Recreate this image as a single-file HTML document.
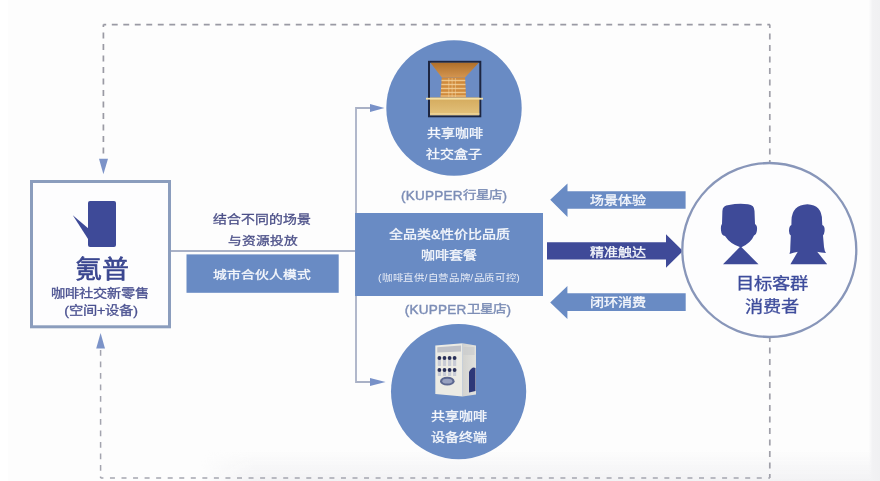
<!DOCTYPE html>
<html lang="zh-CN">
<head>
<meta charset="utf-8">
<style>
html,body{margin:0;padding:0;}
body{width:880px;height:481px;overflow:hidden;background:#fdfdfd;position:relative;font-family:"Liberation Sans",sans-serif;}
svg{position:absolute;left:0;top:0;}
#wrap{position:absolute;left:0;top:0;width:880px;height:481px;filter:blur(0.4px);}
.t{position:absolute;white-space:nowrap;text-align:center;line-height:1;transform:scaleY(0.86);font-weight:normal;-webkit-text-stroke:0.35px currentColor;}
.w{color:#f6f8fc;}
.cj{display:inline-block;transform:scaleY(0.86);}
</style>
</head>
<body>
<div id="wrap">
<svg width="880" height="481" viewBox="0 0 880 481">
  <defs>
    <linearGradient id="bot" x1="0" y1="0" x2="0" y2="1">
      <stop offset="0" stop-color="#f3f3f5" stop-opacity="0"/>
      <stop offset="1" stop-color="#f2f2f4" stop-opacity="1"/>
    </linearGradient>
    <linearGradient id="botx" x1="0" y1="0" x2="1" y2="0">
      <stop offset="0" stop-color="#fff" stop-opacity="0"/>
      <stop offset="0.08" stop-color="#fff" stop-opacity="1"/>
      <stop offset="1" stop-color="#fff" stop-opacity="1"/>
    </linearGradient>
    <linearGradient id="rgt" x1="0" y1="0" x2="1" y2="0">
      <stop offset="0" stop-color="#f2f2f4" stop-opacity="0"/>
      <stop offset="0.3" stop-color="#f2f2f4" stop-opacity="1"/>
      <stop offset="1" stop-color="#f0f0f2" stop-opacity="1"/>
    </linearGradient>
  </defs>
  <mask id="mbot"><rect x="200" y="440" width="680" height="41" fill="url(#botx)"/></mask>
  <rect x="200" y="450" width="680" height="31" fill="url(#bot)" mask="url(#mbot)"/>
  <rect x="869" y="0" width="11" height="481" fill="url(#rgt)"/>
  <rect x="0" y="0" width="8" height="481" fill="#ffffff"/>

  <!-- dashed frame -->
  <g stroke="#9a9aa4" stroke-width="1.7" fill="none" stroke-dasharray="5.9 5.6">
    <path d="M103.4 24.6 H770" stroke-dashoffset="3.1"/>
    <path d="M103.4 24.6 V158" stroke-dashoffset="3.6"/>
    <path d="M769.8 24.6 V163" stroke-dashoffset="2.6" stroke="#a0a0a9"/>
    <path d="M769.8 337 V478" stroke-dashoffset="1" stroke="#a0a0a9"/>
    <path d="M100.6 478 H770" stroke="#a5a6b0" stroke-width="1.5" stroke-dasharray="5 6.55" stroke-dashoffset="2.2"/>
    <path d="M100.6 478 V349" stroke="#a3a4ae" stroke-width="1.5" stroke-dashoffset="4.3"/>
  </g>
  <polygon points="99,158.7 108,158.7 103.4,174.3" fill="#7c93c8"/>
  <polygon points="96.2,348.6 105,348.6 100.6,333" fill="#7c93c8"/>

  <!-- left box -->
  <rect x="31.5" y="181.5" width="138" height="145.3" fill="#fdfdfe" stroke="#8b9dbd" stroke-width="3"/>
  <!-- logo -->
  <rect x="88" y="201" width="28" height="46" rx="2" fill="#3e4a98"/>
  <polygon points="72.8,215.3 89,229 89,240.6" fill="#3e4a98"/>

  <!-- connectors -->
  <g stroke="#a9b1c6" stroke-width="1.8" fill="none">
    <path d="M171 251 H356"/>
    <path d="M371 108 H356 V382 H371"/>
  </g>
  <polygon points="370,104 370,112 384.5,108" fill="#7891c8"/>
  <polygon points="370,378 370,386 385.6,382" fill="#7891c8"/>

  <!-- blue rect city partner -->
  <rect x="186.5" y="254.4" width="152.2" height="38.4" fill="#698bc4"/>
  <!-- middle rect -->
  <rect x="355.1" y="213" width="187.9" height="83" fill="#698bc4"/>

  <!-- circles -->
  <circle cx="454" cy="108" r="67.7" fill="#698bc4"/>
  <circle cx="458.6" cy="391.6" r="67.6" fill="#698bc4"/>

  <!-- arrows -->
  <polygon points="550.2,199.8 567.5,183.5 567.5,191.3 685.6,191.3 685.6,208.8 567.5,208.8 567.5,217" fill="#698bc4"/>
  <polygon points="547,242.2 666,242.2 666,234.3 683,251 666,267.8 666,259.4 547,259.4" fill="#3f4a98"/>
  <polygon points="550.2,302.4 567.4,286 567.4,293.3 685.7,293.3 685.7,311 567.4,311 567.4,318.9" fill="#698bc4"/>

  <!-- right circle -->
  <circle cx="769.3" cy="250" r="87" fill="#fdfdfe" stroke="#8896b9" stroke-width="2.3"/>

  <!-- silhouettes -->
  <g fill="#3e4a98">
    <path d="M722.4 211 Q722.5 205.5 729 205 Q738 203 748 204.2 Q754.5 205 754.5 211 L755 224 Q757.5 225.5 757 230 Q756.5 234.5 754 235.5 Q751 243 741 247.5 Q730 244 725 236 Q721.5 235.5 721 230.5 Q720.5 225.5 722 224 Z"/>
    <polygon points="723,264.2 758.5,264.2 740.6,246.3"/>
    <path d="M791.5 220 Q792 205 807.4 204.2 Q822 205 822 220 L822.3 225 Q825 226 824.6 231 Q824.3 234 823 235.5 L824 247 Q824.5 251 826 253 Q821 252.5 816.6 251.8 L798.2 251.8 Q793 252.5 789.5 254 Q790.5 251 790.3 247 L790.8 235.5 Q789 234 789 231 Q789 226 791.4 225 Z"/>
    <polygon points="798.2,251 816.6,251 827.2,264.2 790.4,264.2"/>
  </g>

  <!-- coffee box image -->
  <defs>
    <linearGradient id="trap" x1="0" y1="0" x2="0" y2="1">
      <stop offset="0" stop-color="#b06f2a"/><stop offset="1" stop-color="#d39550"/>
    </linearGradient>
    <linearGradient id="boxg" x1="0" y1="0" x2="0" y2="1">
      <stop offset="0" stop-color="#d4aa5c"/><stop offset="1" stop-color="#e3c27c"/>
    </linearGradient>
    <linearGradient id="vside" x1="0" y1="0" x2="1" y2="0">
      <stop offset="0" stop-color="#d2d2cf"/><stop offset="1" stop-color="#e2e2de"/>
    </linearGradient>
  </defs>
  <g>
    <rect x="429" y="61.8" width="51.3" height="54.5" fill="#6c8cc4" stroke="#1d2540" stroke-width="2"/>
    <polygon points="430.5,62.8 478.8,62.8 465,77.5 441.8,77.5" fill="url(#trap)"/>
    <polygon points="441.8,77.5 465,77.5 466,97.5 440.5,97.5" fill="#d08a3c"/>
    <g fill="#efc589">
      <rect x="441.5" y="79.8" width="23.8" height="1.4"/>
      <rect x="441.3" y="83.8" width="24.2" height="1.4"/>
      <rect x="441" y="87.8" width="24.6" height="1.4"/>
      <rect x="440.8" y="91.8" width="25" height="1.4"/>
      <rect x="440.6" y="95.4" width="25.3" height="1.2"/>
    </g>
    <g fill="#f2d3a0" opacity="0.55">
      <rect x="448.3" y="78" width="1" height="19"/>
      <rect x="451.6" y="78" width="1" height="19"/>
      <rect x="454.9" y="78" width="1" height="19"/>
    </g>
    <rect x="430" y="97.5" width="49.3" height="17.8" fill="url(#boxg)"/>
    <rect x="426" y="97.8" width="57" height="1.8" fill="#f3dfa6"/>
    <rect x="430" y="113.3" width="49.3" height="1.2" fill="#f0d9a0"/>
  </g>

  <!-- vending machine image -->
  <g>
    <polygon points="462.6,343.3 476,345.5 476,394.5 462.6,396.5" fill="url(#vside)"/>
    <polygon points="435.3,345.5 462.6,343.3 462.6,396.5 435.3,393.9" fill="#ecebe4"/>
    <polygon points="437.3,347.2 461,345.6 461,351.5 437.3,352.6" fill="#bfc1c8"/>
    <g fill="#c9ccd6">
      <rect x="437.8" y="358" width="3.2" height="8"/><rect x="442.9" y="358" width="3.2" height="8"/><rect x="448" y="358" width="3.2" height="8"/><rect x="453" y="358" width="3.2" height="8"/>
      <rect x="437.8" y="370" width="3.2" height="6"/><rect x="442.9" y="370" width="3.2" height="6"/><rect x="448" y="370" width="3.2" height="6"/><rect x="453" y="370" width="3.2" height="6"/>
    </g>
    <g fill="#2a3058">
      <circle cx="439.4" cy="358" r="1.9"/><circle cx="444.5" cy="358" r="1.9"/><circle cx="449.6" cy="358" r="1.9"/><circle cx="454.6" cy="358" r="1.9"/>
      <circle cx="439.4" cy="370" r="1.9"/><circle cx="444.5" cy="370" r="1.9"/><circle cx="449.6" cy="370" r="1.9"/><circle cx="454.6" cy="370" r="1.9"/>
    </g>
    <ellipse cx="447.3" cy="381.2" rx="7.3" ry="4.4" fill="#5d6890"/>
    <ellipse cx="447.3" cy="381.2" rx="5" ry="2.4" fill="#98a1c0"/>
    <path d="M469 372 Q472 366 475.5 368 L475.5 391 L469 392.5 Z" fill="#2e3878"/>
    <rect x="463.5" y="347" width="11" height="8" fill="#c8c9cc" opacity="0.6"/>
  </g>
</svg>

<!--TEXT-->
<div class="t" style="left:-8.10px;width:220px;top:256.90px;font-size:27px;color:#3b4790;-webkit-text-stroke:0.7px currentColor;transform:scaleY(0.91);">氪普</div>
<div class="t" style="left:-9.60px;width:220px;top:287.10px;font-size:14.2px;color:#4a5190;">咖啡社交新零售</div>
<div class="t" style="left:-8.95px;width:220px;top:304.25px;font-size:14.3px;color:#4a5190;">(空间+设备)</div>
<div class="t" style="left:152.25px;width:220px;top:214.35px;font-size:13.9px;color:#4c5088;">结合不同的场景</div>
<div class="t" style="left:152.50px;width:220px;top:234.95px;font-size:13.7px;color:#4c5088;">与资源投放</div>
<div class="t w" style="left:152.35px;width:220px;top:268.90px;font-size:13.8px;">城市合伙人模式</div>
<div class="t w" style="left:344.60px;width:220px;top:127.10px;font-size:14px;">共享咖啡</div>
<div class="t w" style="left:344.15px;width:220px;top:147.50px;font-size:14px;">社交盒子</div>
<div class="t" style="left:344.15px;width:220px;top:189.25px;font-size:13.5px;color:#7c8db6;transform:none;letter-spacing:0.25px;-webkit-text-stroke:0.45px currentColor;">(KUPPER<span class="cj">行星店</span>)</div>
<div class="t" style="left:348.00px;width:220px;top:303.25px;font-size:13.5px;color:#7c8db6;transform:none;letter-spacing:0.25px;-webkit-text-stroke:0.45px currentColor;">(KUPPER<span class="cj">卫星店</span>)</div>
<div class="t w" style="left:339.60px;width:220px;top:227.60px;font-size:14px;">全品类&amp;性价比品质</div>
<div class="t w" style="left:338.85px;width:220px;top:248.60px;font-size:14px;">咖啡套餐</div>
<div class="t w" style="left:339.10px;width:220px;top:272.80px;font-size:10.4px;-webkit-text-stroke:0;color:#eaeef7;letter-spacing:0.6px;">(咖啡直供/自营品牌/品质可控)</div>
<div class="t w" style="left:348.70px;width:220px;top:410.40px;font-size:14px;">共享咖啡</div>
<div class="t w" style="left:348.95px;width:220px;top:430.50px;font-size:14px;">设备终端</div>
<div class="t w" style="left:508.05px;width:220px;top:194.20px;font-size:14px;">场景体验</div>
<div class="t w" style="left:507.90px;width:220px;top:245.80px;font-size:14px;">精准触达</div>
<div class="t w" style="left:508.00px;width:220px;top:295.75px;font-size:14.1px;">闭环消费</div>
<div class="t" style="left:661.95px;width:220px;top:274.70px;font-size:18.3px;color:#3e4c9c;">目标客群</div>
<div class="t" style="left:662.45px;width:220px;top:298.30px;font-size:18.2px;color:#3e4c9c;">消费者</div>
<!--/TEXT-->
</div>
</body>
</html>
